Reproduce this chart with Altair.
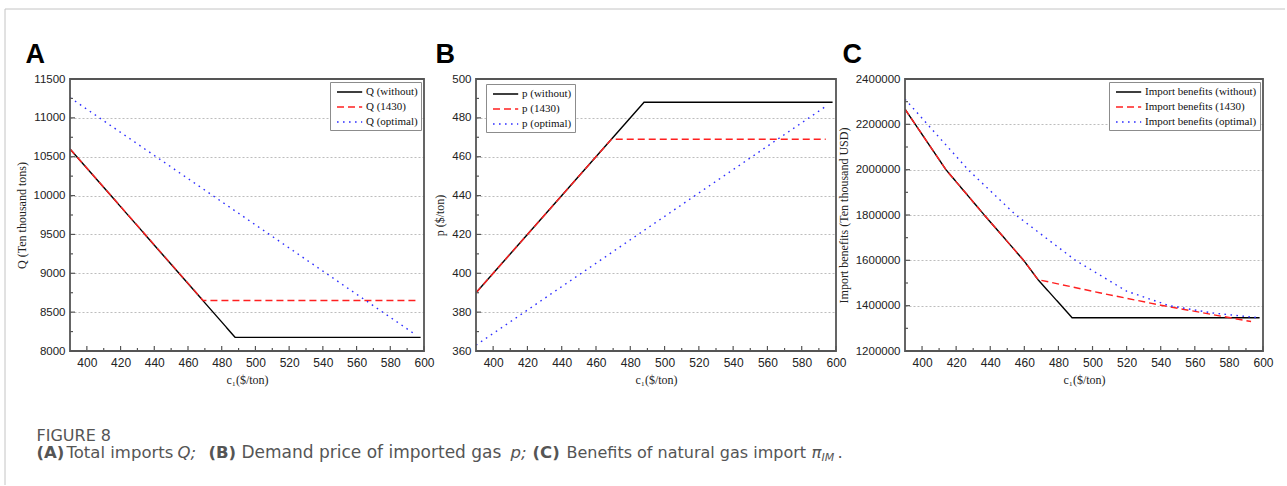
import altair as alt
import pandas as pd

# ---------------- data ----------------
# Panel A: total imports Q (ten thousand tons) vs c1
qa_without_x = [390, 488, 598]
qa_without_y = [10600, 8175, 8175]
qa_1430_x = [390, 469, 595]
qa_1430_y = [10600, 8650, 8650]
qa_opt_x = [390, 595]
qa_opt_y = [11260, 8210]

# Panel B: demand price p ($/ton) vs c1
pb_without_x = [390, 488, 598]
pb_without_y = [390, 488, 488]
pb_1430_x = [390, 469, 594]
pb_1430_y = [390, 469, 469]
pb_opt_x = [390, 595]
pb_opt_y = [363, 486.5]

# Panel C: import benefits (ten thousand USD) vs c1
ic_without_x = [390, 414, 436.5, 459.6, 468, 488, 598]
ic_without_y = [2267000, 2000000, 1800000, 1600000, 1515000, 1347000, 1347000]
ic_1430_x = [390, 414, 436.5, 459.6, 468, 504, 540, 593]
ic_1430_y = [2267000, 2000000, 1800000, 1600000, 1515000, 1457000, 1402000, 1330000]
ic_opt_x = [390, 427, 455, 490, 520, 545, 570, 597]
ic_opt_y = [2311000, 2000000, 1800000, 1600000, 1464000, 1400000, 1368000, 1347000]

names_a = ["Q (without)", "Q (1430)", "Q (optimal)"]
names_b = ["p (without)", "p (1430)", "p (optimal)"]
names_c = ["Import benefits (without)", "Import benefits (1430)", "Import benefits (optimal)"]

x_major = [400, 420, 440, 460, 480, 500, 520, 540, 560, 580, 600]
x_minor = [410, 430, 450, 470, 490, 510, 530, 550, 570, 590]
ya_major = [8000, 8500, 9000, 9500, 10000, 10500, 11000, 11500]
ya_minor = [8250, 8750, 9250, 9750, 10250, 10750, 11250]
yb_major = [360, 380, 400, 420, 440, 460, 480, 500]
yb_minor = [370, 390, 410, 430, 450, 470, 490]
yc_major = [1200000, 1400000, 1600000, 1800000, 2000000, 2200000, 2400000]
yc_minor = [1300000, 1500000, 1700000, 1900000, 2100000, 2300000]

x_title = "c\u2081($/ton)"
ytitle_a = "Q (Ten thousand tons)"
ytitle_b = "p ($/ton)"
ytitle_c = "Import benefits (Ten thousand USD)"

# ---------------- styles ----------------
COLORS = ["#000000", "#ff2020", "#2f2fff"]
DASHES = [[1, 0], [7, 4], [1.6, 4.4]]
FRAME = "#555555"
GRID = "#bdbdbd"
SANS = "Liberation Sans"
SERIF = "Liberation Serif"
CAP_FONT = "DejaVu Sans"
CAP_COLOR = "#555555"

H = 272


def one():
    return pd.DataFrame({"k": [0]})


def legend(**kw):
    return alt.Legend(
        title=None, padding=3, strokeColor="#8c8c8c", fillColor="white",
        labelFont=SERIF, labelFontSize=11, labelColor="#111111",
        symbolType="M-0.5,0H3.7", symbolSize=144, symbolStrokeWidth=1.4,
        rowPadding=3, labelOffset=19, cornerRadius=0, **kw)


def panel(xs_list, ys_list, names, ydom, ymajor, yminor, ytitle, W, RW, leg, extras):
    rows = []
    for nm, xs, ys in zip(names, xs_list, ys_list):
        for i, (a, b) in enumerate(zip(xs, ys)):
            rows.append({"series": nm, "x": a, "y": b, "i": i})
    df = pd.DataFrame(rows)
    xsc = alt.Scale(domain=[390, 600], range=[0, RW], nice=False, zero=False)
    ysc = alt.Scale(domain=ydom, nice=False, zero=False)
    xaxis = alt.Axis(values=x_major, title=x_title, grid=False, domain=False, ticks=False,
                     labelFlush=False, labelOverlap=False, labelPadding=6, titlePadding=6,
                     labelFontSize=12)
    yaxis = alt.Axis(values=ymajor, format="d", title=ytitle, grid=True, gridDash=[2, 2],
                     gridColor=GRID, domain=False, ticks=False, labelFlush=False,
                     labelOverlap=False, labelPadding=5, titlePadding=5, labelFontSize=11.5)
    lines = alt.Chart(df).mark_line(strokeWidth=1.4, clip=True).encode(
        x=alt.X("x:Q", scale=xsc, axis=xaxis),
        y=alt.Y("y:Q", scale=ysc, axis=yaxis),
        color=alt.Color("series:N", scale=alt.Scale(domain=names, range=COLORS), legend=leg),
        strokeDash=alt.StrokeDash("series:N", scale=alt.Scale(domain=names, range=DASHES), legend=leg),
        order="i:Q",
    )

    def xt(vals, L):
        return alt.Chart(pd.DataFrame({"x": vals})).mark_rule(color=FRAME, strokeWidth=1.2).encode(
            x=alt.X("x:Q", scale=xsc, axis=xaxis), y=alt.value(H), y2=alt.value(H - L))

    def yt(vals, L):
        return alt.Chart(pd.DataFrame({"y": vals})).mark_rule(color=FRAME, strokeWidth=1.2).encode(
            y=alt.Y("y:Q", scale=ysc, axis=yaxis), x=alt.value(0), x2=alt.value(L))

    frame = alt.Chart(one()).mark_rect(filled=False, stroke=FRAME, strokeWidth=1.8).encode(
        x=alt.value(0), x2=alt.value(RW), y=alt.value(0), y2=alt.value(H))
    layers = [lines, xt(x_major, 5), xt(x_minor, 3), yt(ymajor, 5), yt(yminor, 3), frame] + extras
    return alt.layer(*layers).properties(width=W, height=H)


def label(txt, x, y, size=16.5, weight="normal", style="normal", font=CAP_FONT, color=CAP_COLOR):
    return alt.Chart(one()).mark_text(
        align="left", baseline="alphabetic", font=font, fontSize=size,
        fontWeight=weight, fontStyle=style, color=color).encode(
        x=alt.value(x), y=alt.value(y), text=alt.value(txt))


# page decoration and caption (positions relative to panel A's plot origin)
OX, OY = 69.5, 78.5
page_left = alt.Chart(one()).mark_rule(color="#c4c4c4", strokeWidth=1).encode(
    x=alt.value(-65), y=alt.value(-70), y2=alt.value(406))
page_top = alt.Chart(one()).mark_rule(color="#c4c4c4", strokeWidth=1).encode(
    x=alt.value(-65), x2=alt.value(1215), y=alt.value(-70))

cap_y = 457 - OY
caption = [
    label("FIGURE 8", 36 - OX, 440 - OY, size=16),
    label("(A)", 36 - OX, cap_y, weight="bold"),
    label("Total imports", 66 - OX, cap_y),
    label("Q;", 177 - OX, cap_y, style="italic"),
    label("(B)", 208 - OX, cap_y, weight="bold"),
    label("Demand price of imported gas", 241 - OX, cap_y, size=17),
    label("p;", 510 - OX, cap_y, style="italic"),
    label("(C)", 532 - OX, cap_y, weight="bold"),
    label("Benefits of natural gas import", 566 - OX, cap_y, size=16),
    label("\u03c0", 811 - OX, cap_y, style="italic"),
    label("IM", 821 - OX, cap_y + 3, size=11, style="italic"),
    label(".", 837 - OX, cap_y),
]

big = dict(size=27, weight="bold", font=SANS, color="#000000")

panel_a = panel([qa_without_x, qa_1430_x, qa_opt_x], [qa_without_y, qa_1430_y, qa_opt_y],
                names_a, [8000, 11500], ya_major, ya_minor, ytitle_a, 354, 354,
                legend(orient="top-right", offset=3),
                [label("A", -44.5, -16.5, **big), page_left, page_top] + caption)

panel_b = panel([pb_without_x, pb_1430_x, pb_opt_x], [pb_without_y, pb_1430_y, pb_opt_y],
                names_b, [360, 500], yb_major, yb_minor, ytitle_b, 377, 360,
                legend(orient="none", legendX=10, legendY=5),
                [label("B", -40.5, -16.5, **big)])

panel_c = panel([ic_without_x, ic_1430_x, ic_opt_x], [ic_without_y, ic_1430_y, ic_opt_y],
                names_c, [1200000, 2400000], yc_major, yc_minor, ytitle_c, 358, 358,
                legend(orient="top-right", offset=3),
                [label("C", -62.5, -16.5, **big)])

chart = alt.hconcat(panel_a, panel_b, panel_c, spacing=52, bounds="flush").resolve_scale(
    color="independent", strokeDash="independent").resolve_legend(
    color="independent", strokeDash="independent").properties(
    padding={"left": 4, "top": 8, "right": 0, "bottom": 0},
    background="white",
).configure_view(stroke=None).configure_axis(
    labelFont=SANS, labelColor="#222222", labelOverlap=False,
    titleFont=SERIF, titleFontSize=12, titleFontWeight="normal", titleColor="#222222",
)

chart.save("out.html", embed_options={"renderer": "svg", "actions": False})
